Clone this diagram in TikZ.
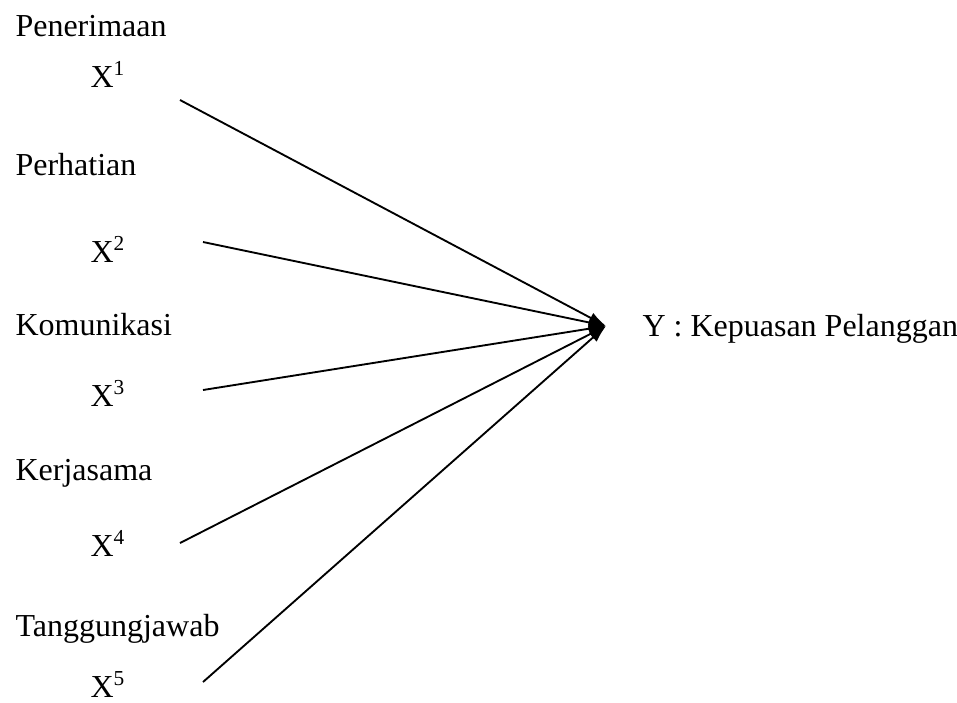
\documentclass[tikz,border=0pt]{standalone}
\usepackage{fontspec}
\setmainfont{Liberation Serif}
\usepackage{tikz}
\usetikzlibrary{arrows.meta}
\tikzset{
    lbl/.style={anchor=base west, inner sep=0pt, font=\fontsize{12}{14}\selectfont},
    conn/.style={line width=0.7pt, -{Latex[length=6.5pt, width=4.2pt]}}
}

\begin{document}
\begin{tikzpicture}[x=0.375pt, y=-0.375pt]
            \useasboundingbox(0, 0)rectangle(957, 702);
            \node[lbl] (pen) at (15, 36) {Penerimaan};
            \node[lbl] (x1) at (90, 87) {X\textsuperscript{1}};
            \node[lbl] (per) at (15, 175) {Perhatian};
            \node[lbl] (x2) at (90, 262) {X\textsuperscript{2}};
            \node[lbl] (kom) at (15, 335) {Komunikasi};
            \node[lbl] (x3) at (90, 406) {X\textsuperscript{3}};
            \node[lbl] (ker) at (15, 480) {Kerjasama};
            \node[lbl] (x4) at (90, 556) {X\textsuperscript{4}};
            \node[lbl] (tan) at (15, 636) {Tanggungjawab};
            \node[lbl] (x5) at (90, 697) {X\textsuperscript{5}};
            \node[lbl] (y) at (642, 336) {Y : Kepuasan Pelanggan};
            % free ends of the connectors
            \coordinate (s1) at (180, 100);
            \coordinate (s2) at (203, 242);
            \coordinate (s3) at (203, 390);
            \coordinate (s4) at (180, 543);
            \coordinate (s5) at (203, 682);
            \coordinate (hub) at (606, 326);
            \draw[conn](s1)--(hub);
            \draw[conn](s2)--(hub);
            \draw[conn](s3)--(hub);
            \draw[conn](s4)--(hub);
            \draw[conn](s5)--(hub);
        \end{tikzpicture}
\end{document}
